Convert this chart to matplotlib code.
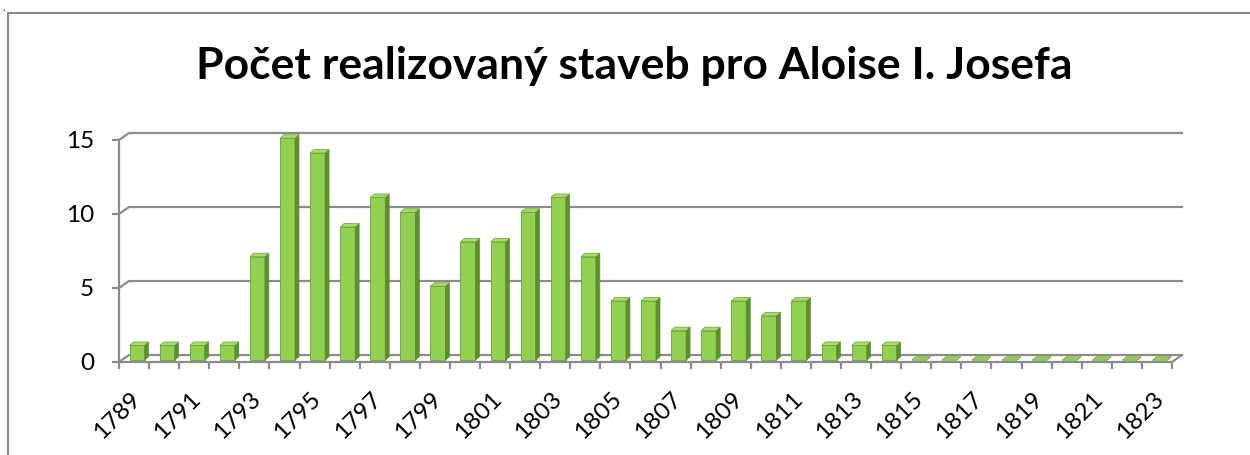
import numpy as np
import matplotlib
matplotlib.use("Agg")
import matplotlib.pyplot as plt
from matplotlib.patches import Polygon, Rectangle

years = list(range(1789, 1824))
counts = [1, 1, 1, 1, 7, 15, 14, 9, 11, 10, 5, 8, 8, 10, 11, 7, 4, 4, 2, 2,
          4, 3, 4, 1, 1, 1, 0, 0, 0, 0, 0, 0, 0, 0, 0]
yticks = [0, 5, 10, 15]
title = "Počet realizovaný staveb pro Aloise I. Josefa"

plt.rcParams['font.family'] = ['Lato', 'DejaVu Sans']

W, H = 1250, 455
fig = plt.figure(figsize=(W / 100, H / 100), dpi=100)

# chart frame (runs off the right and bottom of the picture)
fig.patches.append(Rectangle((8 / W, -0.1), 1.2, (H - 13) / H + 0.1,
                             transform=fig.transFigure, fill=False,
                             edgecolor='#868686', linewidth=1.5))
fig.text(0.002, 0.996, '.', fontsize=8, va='top', ha='left')

fig.text(634 / W, 1 - 66 / H, title, ha='center', va='center',
         fontsize=32, fontweight='bold')

# plot area in pixels: front x 119..1172, y=0 at 362, 14.8 px per unit
px_unit = 14.8
ylo, yhi = -1.0, 16.0
top_px = 362 - yhi * px_unit
bot_px = 362 - ylo * px_unit
ax = fig.add_axes([119 / W, 1 - bot_px / H, (1172 - 119) / W, (bot_px - top_px) / H])
n = len(years)
ax.set_xlim(-0.5, n - 0.5)
ax.set_ylim(ylo, yhi)
ax.patch.set_visible(False)

x_unit = (1172 - 119) / n
grid_c = '#8c8c8c'
# depth offsets (back wall)
bdx, bdy = 10 / x_unit, 7 / px_unit
for v in yticks:
    ax.plot([-0.5, -0.5 + bdx, n - 0.5 + bdx], [v, v + bdy, v + bdy],
            color=grid_c, lw=1.6, clip_on=False, zorder=1)
ax.plot([n - 0.5, n - 0.5 + bdx], [0, bdy], color=grid_c, lw=1.6, clip_on=False, zorder=1)

# spines / ticks
for s in ['top', 'right']:
    ax.spines[s].set_visible(False)
ax.spines['left'].set_bounds(0, 15)
ax.spines['left'].set_color(grid_c)
ax.spines['left'].set_linewidth(1.6)
ax.spines['bottom'].set_position(('data', 0))
ax.spines['bottom'].set_color(grid_c)
ax.spines['bottom'].set_linewidth(1.6)
ax.set_yticks(yticks)
ax.set_yticklabels([str(v) for v in yticks], fontsize=17.5)
ax.tick_params(axis='y', length=5, width=1.6, color=grid_c, pad=13)

ax.set_xticks(np.arange(n + 1) - 0.5, minor=True)
ax.tick_params(axis='x', which='minor', length=5, width=1.6, color=grid_c)
ax.set_xticks(np.arange(0, n, 2) + 0.1)
ax.set_xticklabels([str(y) for y in years[::2]], fontsize=17.5, rotation=45,
                   ha='right', va='center', rotation_mode='anchor')
ax.tick_params(axis='x', which='major', length=0, pad=24)

# 3D-looking columns
mdx, mdy = 5 / x_unit, 3.5 / px_unit
w = 15 / x_unit
sx, sy = 4 / x_unit, 3.5 / px_unit
front_c, side_c, top_c, edge_c = '#92d050', '#5e8f2e', '#a6dc6a', '#6e9e3e'
for i, v in enumerate(counts):
    x0 = i + mdx - w / 2 - sx / 2
    y0 = mdy - sy / 2
    top = [(x0, y0 + v), (x0 + sx, y0 + v + sy), (x0 + w + sx, y0 + v + sy), (x0 + w, y0 + v)]
    if v > 0:
        ax.add_patch(Rectangle((x0, y0), w, v, facecolor=front_c, edgecolor=edge_c,
                               lw=0.6, zorder=3, clip_on=False))
        side = [(x0 + w, y0), (x0 + w + sx, y0 + sy), (x0 + w + sx, y0 + v + sy), (x0 + w, y0 + v)]
        ax.add_patch(Polygon(side, closed=True, facecolor=side_c, edgecolor=side_c,
                             lw=0.5, zorder=3, clip_on=False))
    ax.add_patch(Polygon(top, closed=True, facecolor=top_c if v > 0 else front_c,
                         edgecolor=edge_c, lw=0.5, zorder=4, clip_on=False))

fig.savefig("out.png", dpi=100)
